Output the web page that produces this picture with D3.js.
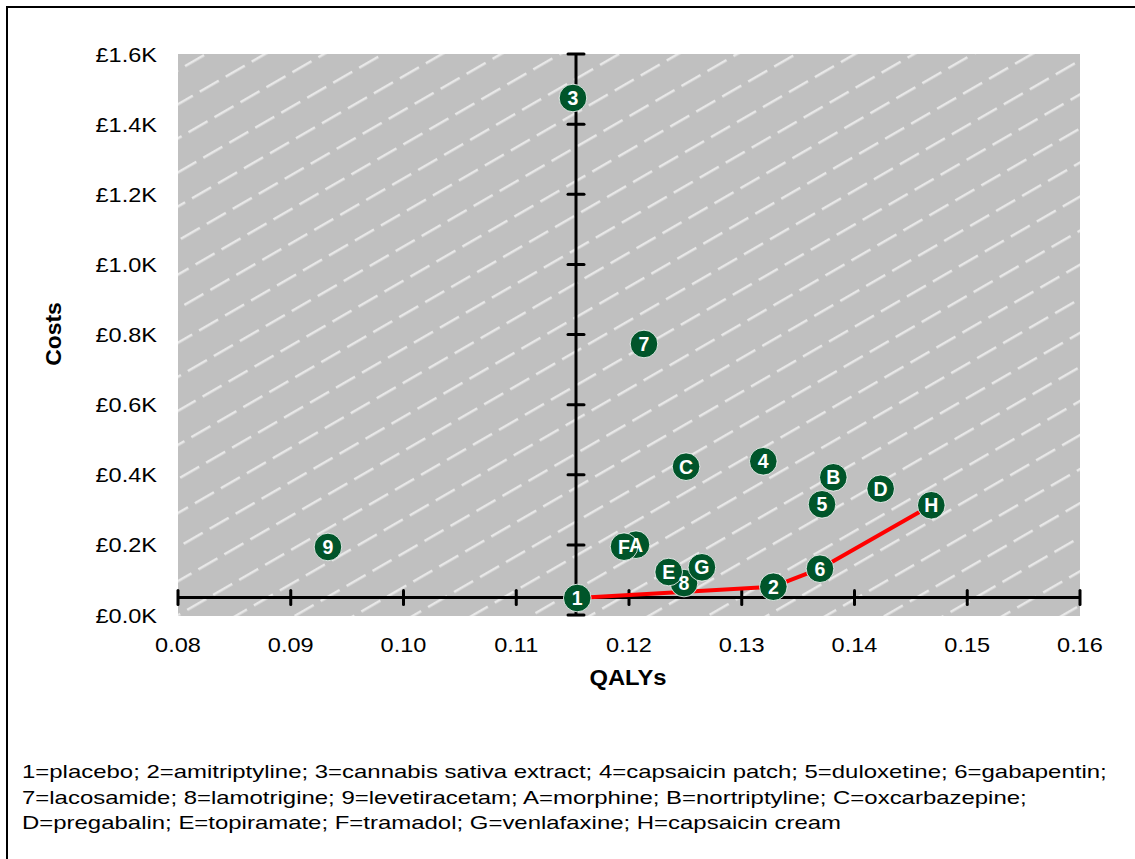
<!DOCTYPE html>
<html>
<head>
<meta charset="utf-8">
<script src="https://cdn.jsdelivr.net/npm/d3@7"></script>
<style>
  html, body { margin: 0; padding: 0; background: #fff; }
  svg { display: block; font-family: Arial, "Liberation Sans", sans-serif; }
</style>
</head>
<body>
<svg id="chart" width="1135" height="859"></svg>
<script>
// ---- data ----
const labels = ["1","2","3","4","5","6","7","8","9","A","B","C","D","E","F","G","H"];
const qalys  = [0.11541,0.13280,0.11503,0.13191,0.13712,0.13694,0.12133,0.12488,0.09330,0.12062,0.13812,0.12506,0.14232,0.12352,0.11956,0.12647,0.14681];
const costs  = [48.5,80.7,1474.5,438.4,315.7,132,773,91,194,200.5,392.7,423,360,122.6,194.8,136,313];
const frontier = ["1","2","6","H"];
const xTicks = [0.08,0.09,0.10,0.11,0.12,0.13,0.14,0.15,0.16];
const yTicks = [0,200,400,600,800,1000,1200,1400,1600];
const yTickLabels = ["£0.0K","£0.2K","£0.4K","£0.6K","£0.8K","£1.0K","£1.2K","£1.4K","£1.6K"];
const axisCrossX = 0.1153;
const axisCrossY = 50;
const legendLines = [
  "1=placebo; 2=amitriptyline; 3=cannabis sativa extract; 4=capsaicin patch; 5=duloxetine; 6=gabapentin;",
  "7=lacosamide; 8=lamotrigine; 9=levetiracetam; A=morphine; B=nortriptyline; C=oxcarbazepine;",
  "D=pregabalin; E=topiramate; F=tramadol; G=venlafaxine; H=capsaicin cream"
];

const pts = labels.map((l,i)=>({label:l, q:qalys[i], c:costs[i]}));
const byLabel = Object.fromEntries(pts.map(p=>[p.label,p]));

const svg = d3.select("#chart");
const plot = {left:178, right:1080, top:54, bottom:616};
const x = d3.scaleLinear().domain([0.08,0.16]).range([plot.left, plot.right]);
const y = d3.scaleLinear().domain([0,1600]).range([615, 54]);

// widen glyphs horizontally (reference text is set wide)
function widen(sel, k) {
  sel.each(function(){
    const len = this.getComputedTextLength();
    d3.select(this).attr("textLength", len*k).attr("lengthAdjust","spacingAndGlyphs");
  });
}

// outer frame (right/bottom edges fall outside the picture)
svg.append("rect").attr("x",7).attr("y",7).attr("width",1140).attr("height",860)
  .attr("fill","none").attr("stroke","#000").attr("stroke-width",2);

// hatch pattern
const defs = svg.append("defs");
const pat = defs.append("pattern").attr("id","hatch").attr("patternUnits","userSpaceOnUse")
  .attr("width",30).attr("height",29.5)
  .attr("patternTransform","translate(178,54) rotate(-30)");
pat.append("rect").attr("width",30).attr("height",29.5).attr("fill","#c0c0c0");
pat.append("line").attr("x1",0).attr("x2",22).attr("y1",14).attr("y2",14)
  .attr("stroke","#e8e8e8").attr("stroke-width",2.5);

svg.append("rect").attr("x",plot.left).attr("y",plot.top)
  .attr("width",plot.right-plot.left).attr("height",plot.bottom-plot.top)
  .attr("fill","url(#hatch)");

// axes lines
const axG = svg.append("g").attr("stroke","#000").attr("stroke-width",3).attr("stroke-linecap","round");
const yx = x(axisCrossX), xy = y(axisCrossY);
axG.append("line").attr("x1",x(0.08)).attr("x2",x(0.16)).attr("y1",xy).attr("y2",xy).attr("stroke-linecap","butt");
axG.append("line").attr("x1",yx).attr("x2",yx).attr("y1",y(0)).attr("y2",y(1600)).attr("stroke-linecap","butt");
axG.selectAll(".xt").data(xTicks).join("line")
  .attr("x1",d=>x(d)).attr("x2",d=>x(d)).attr("y1",xy-7).attr("y2",xy+7);
axG.selectAll(".yt").data(yTicks).join("line")
  .attr("y1",d=>y(d)).attr("y2",d=>y(d)).attr("x1",yx-8).attr("x2",yx+8);

// tick labels
svg.append("g").selectAll("text").data(xTicks).join("text")
  .attr("x",d=>x(d)).attr("y",652).attr("text-anchor","middle")
  .attr("font-size",21).attr("fill","#000").text(d=>d3.format(".2f")(d))
  .call(widen, 1.12);
svg.append("g").selectAll("text").data(yTicks).join("text")
  .attr("x",157).attr("y",d=>y(d)).attr("dy","0.36em").attr("text-anchor","end")
  .attr("font-size",21).attr("fill","#000").text((d,i)=>yTickLabels[i])
  .call(widen, 1.12);

// axis titles
svg.append("text").attr("x",628).attr("y",685).attr("text-anchor","middle")
  .attr("font-size",22).attr("font-weight","bold").text("QALYs").call(widen, 1.08);
svg.append("text").attr("transform","translate(61,334) rotate(-90)").attr("text-anchor","middle")
  .attr("font-size",22).attr("font-weight","bold").text("Costs").call(widen, 1.04);

// frontier line
svg.append("path").datum(frontier.map(l=>byLabel[l]))
  .attr("fill","none").attr("stroke","#ff0000").attr("stroke-width",4).attr("stroke-linejoin","round")
  .attr("d",d3.line().x(d=>x(d.q)).y(d=>y(d.c)));

// markers first, then data labels on top
svg.append("g").selectAll("circle").data(pts).join("circle")
  .attr("cx",d=>x(d.q)).attr("cy",d=>y(d.c))
  .attr("r",13.8).attr("fill","#00552a").attr("stroke","#ffffff").attr("stroke-width",0.8);
svg.append("g").selectAll("text").data(pts).join("text")
  .attr("x",d=>x(d.q)).attr("y",d=>y(d.c)).attr("text-anchor","middle").attr("dy","0.36em")
  .attr("font-size",19.5).attr("font-weight","bold").attr("fill","#fff").text(d=>d.label);

// legend
svg.append("g").selectAll("text").data(legendLines).join("text")
  .attr("x",22).attr("y",(d,i)=>778+i*25.7).attr("font-size",19).attr("fill","#000").text(d=>d)
  .call(widen, 1.26);
</script>
</body>
</html>
